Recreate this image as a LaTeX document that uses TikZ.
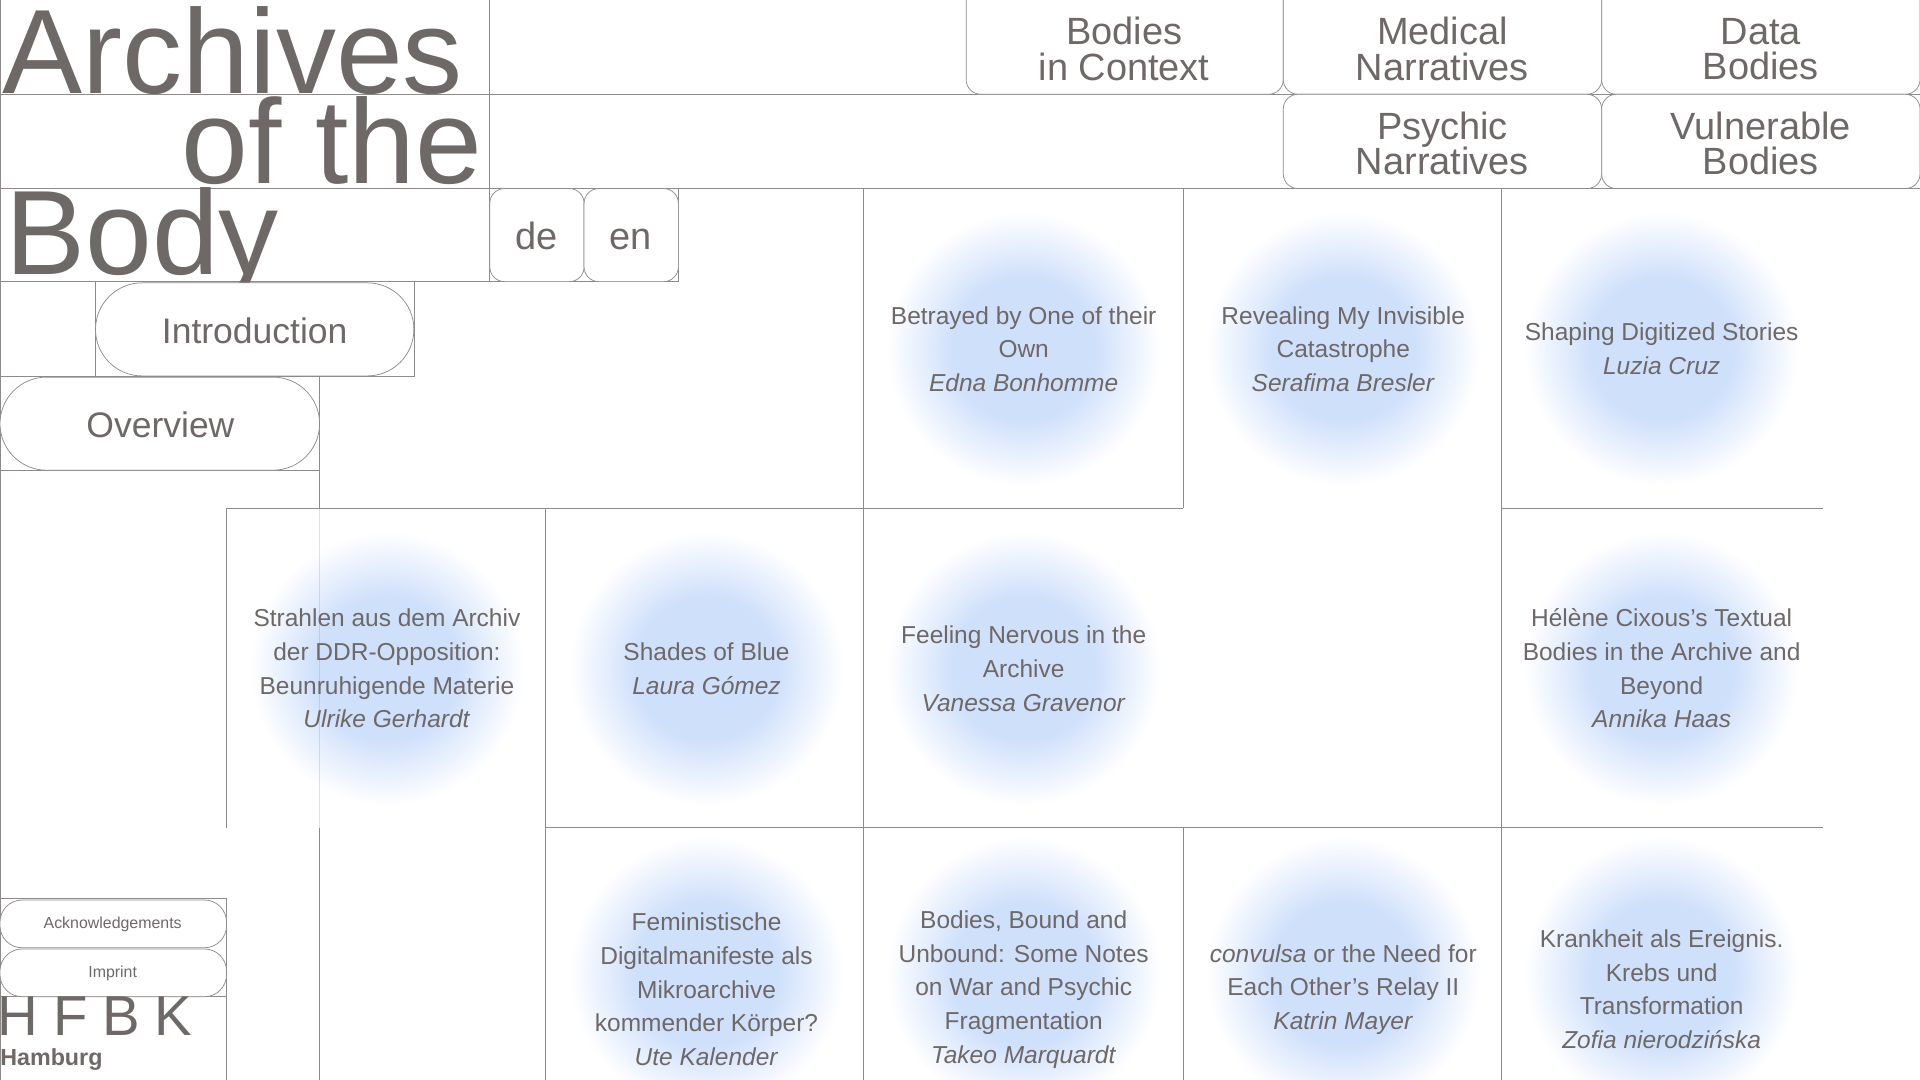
\documentclass[tikz,border=0pt]{standalone}
\usepackage{fontspec}
\setmainfont{Liberation Sans}
\definecolor{ink}{HTML}{6E6867}
\definecolor{rule}{HTML}{8E8A8A}
\definecolor{blobc}{HTML}{CFE0FB}
\pgfdeclareradialshading{blob}{\pgfpoint{0bp}{0bp}}{color(0bp)=(blobc); color(13bp)=(blobc); color(25bp)=(white); color(50bp)=(white)}
\tikzset{every picture/.style={line width=0.6pt},
  grid/.style={draw=rule, line width=0.6pt},
  pill/.style={draw=rule, rounded corners=25pt, fill=white},
  navbox/.style={draw=rule, rounded corners=12pt, fill=white},
  navtxt/.style={text=ink, align=center, font=\fontsize{31}{29}\selectfont},
  celltxt/.style={text=ink, align=center, font=\fontsize{20}{27.5}\selectfont},
  bigtxt/.style={text=ink, inner sep=0pt, font=\fontsize{98}{98}\selectfont}}
\begin{document}
\begin{tikzpicture}[x=1pt,y=1pt,yscale=-1,xscale=1]
	\useasboundingbox (0,0) rectangle (1568,882);
	%blobs
	\foreach \cx/\cy in {836/285,1097/285,1357/285,316/546,577/546,836/546,1357/546,577/795,836/795,1097/795,1357/795}
	  \shade[shading=blob] (\cx,\cy) circle (112);
	%grid
	\draw[grid] (0,0) -- (0,882) -- (1568,882);
	\draw[grid] (0,77) -- (1568,77);
	\draw[grid] (0,154) -- (1568,154);
	\draw[grid] (0,230) -- (554,230) -- (554,154);
	\draw[grid] (400,0) -- (400,230);
	\draw[grid] (78,230) -- (78,307) -- (338,307) -- (338,230);
	\draw[grid] (0,307) -- (261,307) -- (261,415);
	\draw[grid, draw opacity=0.25] (261,415) -- (261,676);
	\draw[grid] (261,676) -- (261,882);
	\draw[grid] (0,384) -- (261,384);
	\draw[grid] (185,415) -- (966,415);
	\draw[grid] (1226,415) -- (1489,415);
	\draw[grid] (185,415) -- (185,676);
	\draw[grid] (445,415) -- (445,882);
	\draw[grid] (445,676) -- (1489,676);
	\draw[grid] (705,154) -- (705,882);
	\draw[grid] (966,154) -- (966,415);
	\draw[grid] (966,676) -- (966,882);
	\draw[grid] (1226,154) -- (1226,882);
	\draw[grid] (0,734) -- (185,734) -- (185,882);
	\draw[grid] (0,814) -- (185,814);
	%title
	\node[bigtxt, anchor=base west] (arch) at (2,76) {Archives};
	\node[bigtxt, anchor=base east] (ofthe) at (394,150) {of the};
	\node[bigtxt, anchor=base west] (body) at (4,224) {Body};
	%navigation
	\draw[navbox] (789,-20) rectangle (1048,77);
	\draw[navbox] (1048,-20) rectangle (1308,77);
	\draw[navbox] (1308,-20) rectangle (1568,77);
	\draw[navbox] (1048,77) rectangle (1308,154);
	\draw[navbox] (1308,77) rectangle (1568,154);
	\node[navtxt] (ctx) at (918,40) {Bodies\\in Context};
	\node[navtxt] (med) at (1178,40) {Medical\\Narratives};
	\node[navtxt] (dat) at (1438,40) {Data\\Bodies};
	\node[navtxt] (psy) at (1178,117) {Psychic\\Narratives};
	\node[navtxt] (vul) at (1438,117) {Vulnerable\\Bodies};
	%language
	\draw[navbox] (400,154) rectangle (477,230);
	\draw[navbox] (477,154) rectangle (554,230);
	\node[navtxt, anchor=base] (de) at (438,204) {de};
	\node[navtxt, anchor=base] (en) at (515,204) {en};
	%pills
	\draw[pill, rounded corners=38pt] (78,231) rectangle (338,307);
	\node[navtxt, font=\fontsize{29}{29}\selectfont] (intro) at (208,270) {Introduction};
	\draw[pill, rounded corners=38pt] (0,308) rectangle (261,384);
	\node[navtxt, font=\fontsize{29}{29}\selectfont] (over) at (131,347) {Overview};
	\draw[pill, rounded corners=18pt] (0,735) rectangle (185,774);
	\draw[pill, rounded corners=18pt] (0,775) rectangle (185,814);
	\node[text=ink, font=\fontsize{13}{13}\selectfont] (ack) at (92,755) {Acknowledgements};
	\node[text=ink, font=\fontsize{13}{13}\selectfont] (imp) at (92,795) {Imprint};
	%logo
	\node[text=ink, anchor=base west, inner sep=0pt, font=\fontsize{46}{46}\selectfont] (hfbk) at (-2,846) {H\hspace{12pt}F\hspace{12pt}B\hspace{12pt}K};
	\node[text=ink, anchor=base west, inner sep=0pt, font=\bfseries\fontsize{19}{19}\selectfont] (hh) at (0,870) {Hamburg};
	%cells
	\node[celltxt] (c1) at (836,285) {Betrayed by One of their\\Own\\\textit{Edna Bonhomme}};
	\node[celltxt] (c2) at (1097,285) {Revealing My Invisible\\Catastrophe\\\textit{Serafima Bresler}};
	\node[celltxt] (c3) at (1357,285) {Shaping Digitized Stories\\\textit{Luzia Cruz}};
	\node[celltxt] (c4) at (316,546) {Strahlen aus dem Archiv\\der DDR-Opposition:\\Beunruhigende Materie\\\textit{Ulrike Gerhardt}};
	\node[celltxt] (c5) at (577,546) {Shades of Blue\\\textit{Laura Gómez}};
	\node[celltxt] (c6) at (836,546) {Feeling Nervous in the\\Archive\\\textit{Vanessa Gravenor}};
	\node[celltxt] (c7) at (1357,546) {Hélène Cixous’s Textual\\Bodies in the Archive and\\Beyond\\\textit{Annika Haas}};
	\node[celltxt] (c8) at (577,808) {Feministische\\Digitalmanifeste als\\Mikroarchive\\kommender Körper?\\\textit{Ute Kalender}};
	\node[celltxt] (c9) at (836,808) {Bodies, Bound and\\Unbound: Some Notes\\on War and Psychic\\Fragmentation\\\textit{Takeo Marquardt}};
	\node[celltxt] (c10) at (1097,808) {\textit{convulsa} or the Need for\\Each Other’s Relay II\\\textit{Katrin Mayer}};
	\node[celltxt] (c11) at (1357,808) {Krankheit als Ereignis.\\Krebs und\\Transformation\\\textit{Zofia nierodzińska}};
\end{tikzpicture}
\end{document}
